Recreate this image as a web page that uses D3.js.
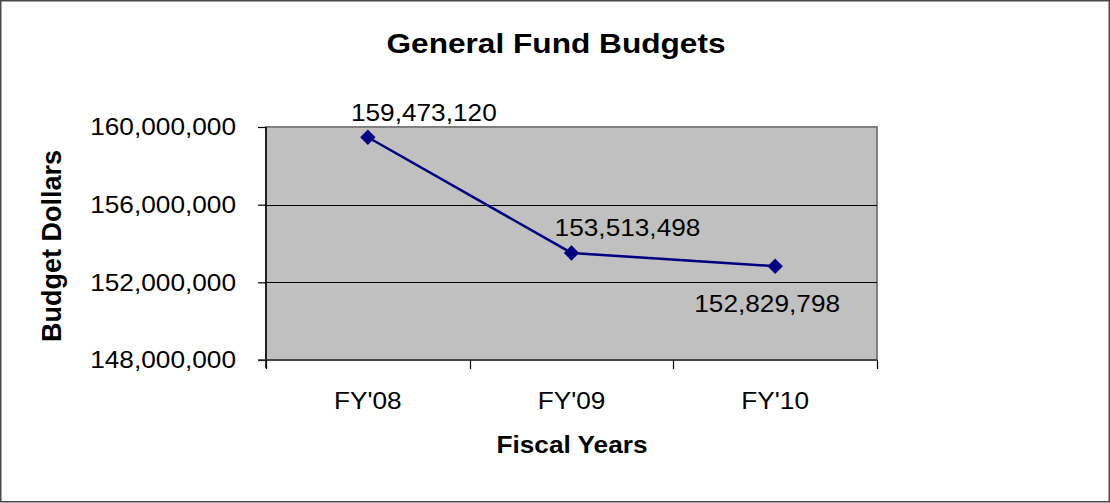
<!DOCTYPE html>
<html>
<head>
<meta charset="utf-8">
<script src="https://cdn.jsdelivr.net/npm/d3@7"></script>
<style>
  html, body { margin: 0; padding: 0; background: #fff; }
  svg { display: block; }
  text { font-family: Arial, "Liberation Sans", sans-serif; fill: #000; }
</style>
</head>
<body>
<svg id="chart" width="1110" height="503"></svg>
<script>
// Budget data
const years = ["FY'08", "FY'09", "FY'10"];
const budgets = [159473120, 153513498, 152829798];
const yTicks = [148000000, 152000000, 156000000, 160000000];

// Data label placement relative to each point (dx, dy to baseline)
const labelOffsets = [[56, -16], [56, -17], [-8, 46]];

const W = 1110, H = 503;
const plot = { left: 266, right: 877, top: 127, bottom: 360 };
const stretch = 1.14;

const svg = d3.select("#chart");
const fmt = d3.format(",");

// outer frame
svg.append("rect")
  .attr("x", 0.75).attr("y", 0.75)
  .attr("width", W - 1.5).attr("height", H - 2)
  .attr("fill", "#fff").attr("stroke", "#4a4a4a").attr("stroke-width", 1.5);

const x = d3.scaleBand().domain(years).range([plot.left, plot.right]);
const y = d3.scaleLinear().domain([148000000, 160000000]).range([plot.bottom, plot.top]);

// plot area
svg.append("rect")
  .attr("x", plot.left).attr("y", plot.top)
  .attr("width", plot.right - plot.left).attr("height", plot.bottom - plot.top)
  .attr("fill", "#c0c0c0").attr("stroke", "#808080").attr("stroke-width", 2);

// gridlines
svg.append("g").selectAll("line")
  .data(yTicks.filter(t => t > 148000000 && t < 160000000))
  .join("line")
  .attr("x1", plot.left).attr("x2", plot.right)
  .attr("y1", d => Math.round(y(d)) + 0.5).attr("y2", d => Math.round(y(d)) + 0.5)
  .attr("stroke", "#000").attr("stroke-width", 1);

// y axis
const yAxis = d3.axisLeft(y).tickValues(yTicks).tickSize(8).tickPadding(0).tickFormat(d => "");
const gy = svg.append("g").attr("transform", `translate(${plot.left},0)`).call(yAxis);
gy.select(".domain").remove();
gy.selectAll(".tick line").attr("stroke", "#000").attr("stroke-width", 1.2);
svg.append("line")
  .attr("x1", plot.left).attr("x2", plot.left)
  .attr("y1", plot.top).attr("y2", plot.bottom + 8)
  .attr("stroke", "#000").attr("stroke-width", 1.5);

svg.append("g").selectAll("text")
  .data(yTicks)
  .join("text")
  .attr("transform", d => `translate(236,${y(d)}) scale(${stretch},1)`)
  .attr("dy", "0.36em")
  .attr("text-anchor", "end")
  .style("font-size", "23px")
  .text(d => fmt(d));

// x axis
svg.append("line")
  .attr("x1", plot.left - 8).attr("x2", plot.right)
  .attr("y1", plot.bottom).attr("y2", plot.bottom)
  .attr("stroke", "#333").attr("stroke-width", 1.5);
const bounds = years.map(d => x(d)).concat([x.range()[1]]);
svg.append("g").selectAll("line")
  .data(bounds)
  .join("line")
  .attr("x1", d => Math.round(d) + 0.5).attr("x2", d => Math.round(d) + 0.5)
  .attr("y1", plot.bottom).attr("y2", plot.bottom + 9)
  .attr("stroke", "#000").attr("stroke-width", 1.2);

svg.append("g").selectAll("text")
  .data(years)
  .join("text")
  .attr("transform", d => `translate(${x(d) + x.bandwidth() / 2},409) scale(${stretch},1)`)
  .attr("text-anchor", "middle")
  .style("font-size", "23px")
  .text(d => d);

// series line
const pts = years.map((d, i) => [x(d) + x.bandwidth() / 2, y(budgets[i])]);
svg.append("path")
  .attr("d", d3.line()(pts))
  .attr("fill", "none")
  .attr("stroke", "#000080")
  .attr("stroke-width", 2.5);

// diamond markers
svg.append("g").selectAll("path")
  .data(pts)
  .join("path")
  .attr("transform", d => `translate(${d[0]},${d[1]}) rotate(45)`)
  .attr("d", d3.symbol(d3.symbolSquare, 118)())
  .attr("fill", "#000080");

// data labels
svg.append("g").selectAll("text")
  .data(budgets)
  .join("text")
  .attr("transform", (d, i) => `translate(${pts[i][0] + labelOffsets[i][0]},${pts[i][1] + labelOffsets[i][1]}) scale(${stretch},1)`)
  .attr("text-anchor", "middle")
  .style("font-size", "23px")
  .text(d => fmt(d));

// titles
svg.append("text")
  .attr("transform", `translate(556,53) scale(1.13,1)`)
  .attr("text-anchor", "middle")
  .style("font-size", "28px").style("font-weight", "bold")
  .text("General Fund Budgets");

svg.append("text")
  .attr("transform", `translate(572,453) scale(${stretch},1)`)
  .attr("text-anchor", "middle")
  .style("font-size", "23px").style("font-weight", "bold")
  .text("Fiscal Years");

svg.append("text")
  .attr("transform", `translate(61,246) rotate(-90)`)
  .attr("text-anchor", "middle")
  .style("font-size", "27px").style("font-weight", "bold")
  .text("Budget Dollars");
</script>
</body>
</html>
